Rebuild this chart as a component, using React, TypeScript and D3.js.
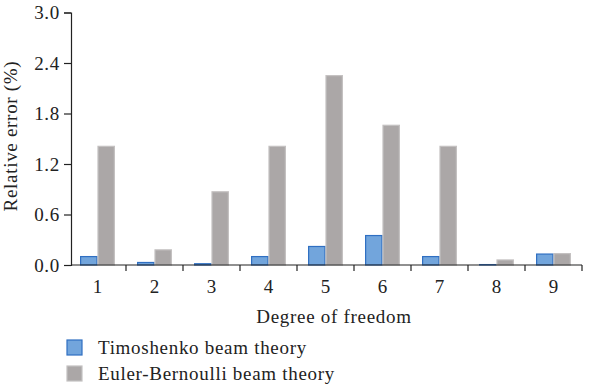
import React, { useRef, useEffect } from 'react';
import * as d3 from 'd3';

const dof = ['1', '2', '3', '4', '5', '6', '7', '8', '9'];
const timoshenko = [0.1, 0.03, 0.015, 0.1, 0.22, 0.35, 0.1, 0.005, 0.13];
const eulerBernoulli = [1.41, 0.18, 0.87, 1.41, 2.25, 1.66, 1.41, 0.06, 0.135];
const yTicks = [0, 0.6, 1.2, 1.8, 2.4, 3.0];
const seriesNames = ['Timoshenko beam theory', 'Euler-Bernoulli beam theory'];

const App: React.FC = () => {
  const svgRef = useRef<SVGSVGElement | null>(null);

  useEffect(() => {
    const svg = d3.select(svgRef.current);
    svg.selectAll('*').remove();

    const width = 600;
    const height = 389;
    const margin = { top: 12.5, right: 18, bottom: 124, left: 69 };
    const font = "'Liberation Serif', 'Times New Roman', serif";
    const fs = 19;
    const ls = '0.7px';

    svg.attr('width', width).attr('height', height);

    const chartW = width - margin.left - margin.right;
    const chartH = height - margin.top - margin.bottom;

    const chart = svg.append('g').attr('transform', `translate(${margin.left},${margin.top})`);

    const x0 = d3.scaleBand().domain(dof).range([0, chartW]).paddingInner(0.39).paddingOuter(0.195);
    const x1 = d3.scaleBand().domain(['T', 'E']).range([0, x0.bandwidth()]);
    const y = d3.scaleLinear().domain([0, 3]).range([chartH, 0]);

    const fills: Record<string, string> = { T: '#72a5dc', E: '#aba7a7' };
    const strokes: Record<string, string> = { T: '#2f6fc2', E: '#c4c1c1' };

    const rows = dof.map((d, i) => ({ d, T: timoshenko[i], E: eulerBernoulli[i] }));

    chart.append('g')
      .selectAll('g')
      .data(rows)
      .join('g')
      .attr('transform', r => `translate(${x0(r.d)},0)`)
      .selectAll('rect')
      .data(r => (['T', 'E'] as const).map(k => ({ k, v: r[k] })))
      .join('rect')
      .attr('x', d => x1(d.k)! + 0.5)
      .attr('y', d => y(d.v))
      .attr('width', x1.bandwidth() - 1)
      .attr('height', d => chartH - y(d.v))
      .attr('fill', d => fills[d.k])
      .attr('stroke', d => strokes[d.k])
      .attr('stroke-width', 1.2);

    // Y axis
    const yAxis = chart.append('g')
      .attr('transform', 'translate(2,0)')
      .call(d3.axisLeft(y).tickValues(yTicks).tickFormat(d3.format('.1f')).tickSize(7).tickPadding(4));
    yAxis.select('.domain').attr('stroke', '#222').attr('stroke-width', 1.2);
    yAxis.selectAll('line').attr('stroke', '#222').attr('stroke-width', 1.2);
    yAxis.selectAll('text')
      .attr('font-family', font).attr('font-size', fs).attr('letter-spacing', ls).attr('fill', '#222');

    // X axis with ticks at category boundaries
    const xAxis = chart.append('g').attr('transform', `translate(0,${chartH})`);
    xAxis.append('line')
      .attr('x1', 2).attr('x2', chartW)
      .attr('stroke', '#222').attr('stroke-width', 1.2);
    const step = x0.step();
    xAxis.selectAll('line.tick')
      .data(dof)
      .join('line')
      .attr('class', 'tick')
      .attr('x1', (_, i) => (i + 1) * step)
      .attr('x2', (_, i) => (i + 1) * step)
      .attr('y1', 0).attr('y2', 6)
      .attr('stroke', '#222').attr('stroke-width', 1.2);
    xAxis.selectAll('text')
      .data(dof)
      .join('text')
      .attr('x', d => x0(d)! + x0.bandwidth() / 2)
      .attr('y', 28)
      .attr('text-anchor', 'middle')
      .attr('font-family', font)
      .attr('font-size', fs)
      .attr('fill', '#222')
      .text(d => d);

    // Axis titles
    svg.append('text')
      .attr('x', 334)
      .attr('y', 323)
      .attr('text-anchor', 'middle')
      .attr('font-family', font)
      .attr('font-size', fs)
      .attr('letter-spacing', ls)
      .attr('fill', '#222')
      .text('Degree of freedom');

    svg.append('text')
      .attr('transform', `translate(17,136) rotate(-90)`)
      .attr('text-anchor', 'middle')
      .attr('font-family', font)
      .attr('font-size', fs)
      .attr('letter-spacing', ls)
      .attr('fill', '#222')
      .text('Relative error (%)');

    // Legend
    const legend = svg.append('g').attr('transform', 'translate(67,340)');
    seriesNames.forEach((name, i) => {
      const g = legend.append('g').attr('transform', `translate(0,${i * 26})`);
      const k = i === 0 ? 'T' : 'E';
      g.append('rect')
        .attr('width', 15).attr('height', 15)
        .attr('fill', fills[k])
        .attr('stroke', strokes[k])
        .attr('stroke-width', 1.2);
      g.append('text')
        .attr('x', 31).attr('y', 14)
        .attr('font-family', font)
        .attr('font-size', fs)
        .attr('letter-spacing', ls)
        .attr('fill', '#222')
        .text(name);
    });
  }, []);

  return <svg ref={svgRef} style={{ position: 'absolute', left: 0, top: 0 }}></svg>;
};

export default App;
